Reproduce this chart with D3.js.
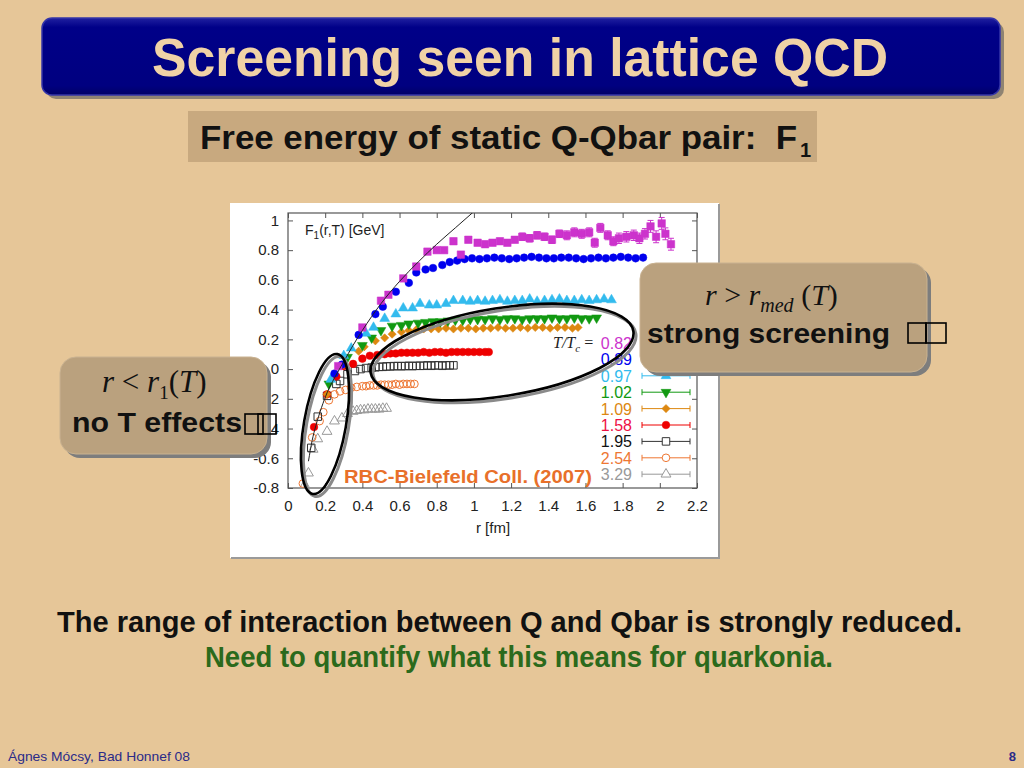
<!DOCTYPE html>
<html>
<head>
<meta charset="utf-8">
<script src="https://cdn.jsdelivr.net/npm/d3@7"></script>
<style>
  body { margin: 0; background: #e6c698; }
  svg { display: block; }
</style>
</head>
<body>
<svg id="slide" width="1024" height="768" font-family="'Liberation Sans', Arial, sans-serif"></svg>
<script>
// ---- data (r in fm, F1 in GeV) ----
const tcLabels = ["0.82", "0.89", "0.97", "1.02", "1.09", "1.58", "1.95", "2.54", "3.29"];

const r082 = [0.27, 0.40, 0.50, 0.54, 0.62, 0.69, 0.75, 0.80, 0.84, 0.89, 0.93, 0.97, 1.02, 1.06, 1.10, 1.14, 1.18, 1.22, 1.26, 1.30, 1.34, 1.38, 1.42, 1.46, 1.50, 1.54, 1.58, 1.62, 1.65, 1.68, 1.72, 1.75, 1.78, 1.82, 1.86, 1.89, 1.92, 1.95, 1.98, 2.01, 2.03, 2.06];
const f082 = [0.02, 0.28, 0.46, 0.50, 0.61, 0.69, 0.79, 0.80, 0.80, 0.86, 0.77, 0.87, 0.85, 0.84, 0.85, 0.86, 0.85, 0.87, 0.89, 0.88, 0.90, 0.89, 0.87, 0.91, 0.90, 0.92, 0.91, 0.92, 0.85, 0.95, 0.90, 0.86, 0.88, 0.89, 0.90, 0.88, 0.91, 0.96, 0.89, 0.98, 0.91, 0.84];
const e082 = [0.01, 0.01, 0.01, 0.01, 0.01, 0.01, 0.015, 0.015, 0.015, 0.02, 0.02, 0.02, 0.02, 0.02, 0.02, 0.02, 0.02, 0.02, 0.025, 0.025, 0.025, 0.025, 0.025, 0.025, 0.03, 0.03, 0.03, 0.03, 0.03, 0.03, 0.03, 0.03, 0.035, 0.035, 0.035, 0.035, 0.035, 0.04, 0.04, 0.04, 0.04, 0.04];

const r089 = [0.25, 0.29, 0.38, 0.47, 0.51, 0.58, 0.65, 0.69, 0.74, 0.78, 0.83, 0.87, 0.91, 0.95, 0.99, 1.03, 1.07, 1.11, 1.15, 1.19, 1.23, 1.27, 1.31, 1.35, 1.39, 1.43, 1.47, 1.51, 1.55, 1.59, 1.63, 1.67, 1.71, 1.75, 1.79, 1.83, 1.87, 1.91];
const f089 = [-0.03, 0.03, 0.23, 0.37, 0.42, 0.52, 0.58, 0.65, 0.67, 0.68, 0.70, 0.72, 0.73, 0.74, 0.745, 0.74, 0.745, 0.75, 0.745, 0.74, 0.745, 0.75, 0.755, 0.75, 0.745, 0.745, 0.75, 0.75, 0.745, 0.74, 0.745, 0.75, 0.745, 0.75, 0.755, 0.75, 0.745, 0.75];

const r097 = [0.23, 0.30, 0.34, 0.42, 0.46, 0.52, 0.58, 0.62, 0.67, 0.71, 0.76, 0.80, 0.85, 0.89, 0.94, 0.98, 1.02, 1.06, 1.10, 1.14, 1.18, 1.22, 1.26, 1.30, 1.34, 1.38, 1.42, 1.46, 1.50, 1.54, 1.58, 1.62, 1.66, 1.70, 1.74];
const f097 = [-0.07, 0.09, 0.14, 0.24, 0.28, 0.34, 0.37, 0.41, 0.41, 0.44, 0.43, 0.43, 0.44, 0.46, 0.46, 0.455, 0.46, 0.455, 0.46, 0.465, 0.455, 0.46, 0.46, 0.47, 0.455, 0.46, 0.465, 0.47, 0.46, 0.46, 0.465, 0.46, 0.465, 0.47, 0.465];

const r102 = [0.22, 0.32, 0.40, 0.45, 0.50, 0.56, 0.61, 0.65, 0.70, 0.74, 0.78, 0.82, 0.86, 0.90, 0.94, 0.98, 1.02, 1.06, 1.10, 1.14, 1.18, 1.22, 1.26, 1.30, 1.34, 1.38, 1.42, 1.46, 1.50, 1.54, 1.58, 1.62, 1.66];
const f102 = [-0.10, 0.08, 0.16, 0.21, 0.26, 0.29, 0.295, 0.305, 0.31, 0.315, 0.32, 0.32, 0.325, 0.33, 0.33, 0.335, 0.335, 0.335, 0.34, 0.335, 0.34, 0.34, 0.335, 0.34, 0.34, 0.34, 0.345, 0.34, 0.34, 0.345, 0.34, 0.34, 0.345];

const r109 = [0.21, 0.30, 0.38, 0.41, 0.47, 0.52, 0.56, 0.61, 0.65, 0.69, 0.73, 0.77, 0.81, 0.85, 0.89, 0.93, 0.97, 1.01, 1.05, 1.09, 1.13, 1.17, 1.21, 1.25, 1.29, 1.33, 1.37, 1.41, 1.45, 1.49, 1.53, 1.56];
const f109 = [-0.17, 0.03, 0.12, 0.15, 0.19, 0.21, 0.235, 0.25, 0.26, 0.265, 0.27, 0.27, 0.27, 0.275, 0.27, 0.275, 0.275, 0.27, 0.275, 0.275, 0.28, 0.275, 0.275, 0.28, 0.275, 0.28, 0.28, 0.275, 0.28, 0.28, 0.275, 0.28];

const r158 = [0.14, 0.21, 0.26, 0.30, 0.35, 0.40, 0.44, 0.48, 0.52, 0.55, 0.58, 0.61, 0.64, 0.67, 0.70, 0.73, 0.76, 0.79, 0.82, 0.85, 0.88, 0.91, 0.94, 0.97, 1.00, 1.03, 1.06, 1.08];
const f158 = [-0.39, -0.17, -0.05, 0.02, 0.035, 0.07, 0.09, 0.095, 0.10, 0.105, 0.105, 0.11, 0.11, 0.11, 0.11, 0.115, 0.11, 0.115, 0.115, 0.11, 0.115, 0.115, 0.115, 0.115, 0.115, 0.115, 0.115, 0.115];

const r195 = [0.125, 0.16, 0.21, 0.26, 0.28, 0.32, 0.36, 0.39, 0.42, 0.45, 0.47, 0.49, 0.51, 0.53, 0.55, 0.57, 0.59, 0.61, 0.63, 0.65, 0.67, 0.69, 0.71, 0.73, 0.75, 0.77, 0.79, 0.81, 0.83, 0.85, 0.87, 0.89];
const f195 = [-0.53, -0.32, -0.18, -0.10, -0.08, -0.035, -0.013, 0.0, 0.007, 0.01, 0.012, 0.015, 0.015, 0.018, 0.018, 0.02, 0.02, 0.02, 0.02, 0.022, 0.02, 0.022, 0.022, 0.022, 0.025, 0.022, 0.025, 0.025, 0.022, 0.025, 0.025, 0.025];

const r254 = [0.08, 0.13, 0.17, 0.19, 0.22, 0.25, 0.28, 0.31, 0.34, 0.37, 0.40, 0.42, 0.44, 0.46, 0.48, 0.50, 0.52, 0.54, 0.56, 0.58, 0.60, 0.62, 0.64, 0.66, 0.68];
const f254 = [-0.77, -0.46, -0.35, -0.29, -0.21, -0.17, -0.15, -0.14, -0.125, -0.12, -0.115, -0.115, -0.11, -0.11, -0.11, -0.105, -0.105, -0.105, -0.105, -0.10, -0.105, -0.10, -0.10, -0.10, -0.10];

const r329 = [0.09, 0.11, 0.135, 0.16, 0.21, 0.25, 0.29, 0.32, 0.35, 0.37, 0.39, 0.41, 0.43, 0.45, 0.47, 0.49, 0.51, 0.53];
const f329 = [-0.78, -0.70, -0.54, -0.47, -0.42, -0.35, -0.33, -0.30, -0.285, -0.28, -0.275, -0.275, -0.27, -0.27, -0.27, -0.27, -0.265, -0.265];

// zero temperature potential (thin black line)
const rT0 = [0.11, 0.13, 0.15, 0.18, 0.21, 0.25, 0.30, 0.35, 0.40, 0.50, 0.60, 0.70, 0.80, 0.90, 1.00];
const fT0 = [-0.62, -0.48, -0.38, -0.26, -0.16, -0.06, 0.05, 0.16, 0.26, 0.44, 0.59, 0.72, 0.84, 0.95, 1.06];

const xTickVals = [0, 0.2, 0.4, 0.6, 0.8, 1, 1.2, 1.4, 1.6, 1.8, 2, 2.2];
const yTickVals = [-0.8, -0.6, -0.4, -0.2, 0, 0.2, 0.4, 0.6, 0.8, 1];

// ---- styles per series ----
const series = [
  { r: r082, f: f082, e: e082, color: "#cc33cc", shape: "square", open: false },
  { r: r089, f: f089, color: "#0000ee", shape: "circle", open: false },
  { r: r097, f: f097, color: "#33bbee", shape: "triUp", open: false },
  { r: r102, f: f102, color: "#119911", shape: "triDown", open: false },
  { r: r109, f: f109, color: "#dd8811", shape: "diamond", open: false },
  { r: r158, f: f158, color: "#ee0000", shape: "circle", open: false },
  { r: r195, f: f195, color: "#333333", shape: "square", open: true },
  { r: r254, f: f254, color: "#ee7733", shape: "circle", open: true },
  { r: r329, f: f329, color: "#999999", shape: "triUp", open: true }
];
const labelColors = ["#cc33cc", "#0000ee", "#33bbee", "#119911", "#dd8811", "#ee1144", "#111111", "#ee7733", "#999999"];

const shapes = {
  square:  { type: d3.symbolSquare,   size: 56, rot: 0 },
  circle:  { type: d3.symbolCircle,   size: 46, rot: 0 },
  triUp:   { type: d3.symbolTriangle, size: 42, rot: 0 },
  triDown: { type: d3.symbolTriangle, size: 42, rot: 180 },
  diamond: { type: d3.symbolSquare,   size: 34, rot: 45 }
};
const SERIF = "'Liberation Serif', 'Times New Roman', serif";

const svg = d3.select("#slide");

// ---- slide background + title ----
svg.append("rect").attr("width", 1024).attr("height", 768).attr("fill", "#e6c698");

const defs = svg.append("defs");
const grad = defs.append("linearGradient").attr("id", "navy")
  .attr("x1", 0).attr("y1", 0).attr("x2", 0).attr("y2", 1);
grad.append("stop").attr("offset", "0%").attr("stop-color", "#2020a0");
grad.append("stop").attr("offset", "12%").attr("stop-color", "#000088");
grad.append("stop").attr("offset", "88%").attr("stop-color", "#000080");
grad.append("stop").attr("offset", "100%").attr("stop-color", "#000066");

svg.append("rect").attr("x", 46).attr("y", 22).attr("width", 958).attr("height", 77)
  .attr("rx", 10).attr("fill", "#8f8372");
svg.append("rect").attr("x", 42).attr("y", 18).attr("width", 958).attr("height", 77)
  .attr("rx", 10).attr("fill", "url(#navy)").attr("stroke", "#3434a8").attr("stroke-width", 1.5);
svg.append("text").attr("x", 152).attr("y", 76)
  .attr("font-size", 54).attr("font-weight", "bold").attr("fill", "#f0d2a6")
  .attr("textLength", 736).attr("lengthAdjust", "spacingAndGlyphs")
  .text("Screening seen in lattice QCD");

// subtitle box
svg.append("rect").attr("x", 188).attr("y", 111).attr("width", 629).attr("height", 51).attr("fill", "#c8a97f");
svg.append("text").attr("x", 200).attr("y", 149).style("white-space", "pre")
  .attr("font-size", 34).attr("font-weight", "bold").attr("fill", "#111")
  .attr("textLength", 597).attr("lengthAdjust", "spacingAndGlyphs")
  .text("Free energy of static Q-Qbar pair:  F");
svg.append("text").attr("x", 800).attr("y", 157)
  .attr("font-size", 20).attr("font-weight", "bold").attr("fill", "#111").text("1");

// ---- chart image ----
svg.append("rect").attr("x", 230).attr("y", 203).attr("width", 489).attr("height", 355).attr("fill", "#fff");
svg.append("path").attr("d", "M719,204 V558 H231").attr("fill", "none").attr("stroke", "#9a9a9a").attr("stroke-width", 2);

const x = d3.scaleLinear().domain([0, 2.2]).range([288, 697]);
const y = d3.scaleLinear().domain([-0.8, 1.05]).range([488, 213]);

const plot = svg.append("g");
defs.append("clipPath").attr("id", "plotclip")
  .append("rect").attr("x", 288).attr("y", 213).attr("width", 409).attr("height", 275);

const styleAxis = g => {
  g.attr("font-family", null);
  g.select(".domain").remove();
  g.selectAll(".tick line").attr("stroke", "#555");
  g.selectAll(".tick text").attr("fill", "#222").attr("font-size", 15);
};
plot.append("g").attr("transform", "translate(0,488)")
  .call(d3.axisBottom(x).tickValues(xTickVals).tickSize(-5).tickPadding(12).tickFormat(d => String(d)))
  .call(styleAxis);
plot.append("g").attr("transform", "translate(0,213)")
  .call(d3.axisTop(x).tickValues(xTickVals).tickSize(-5).tickFormat(""))
  .call(styleAxis);
plot.append("g").attr("transform", "translate(288,0)")
  .call(d3.axisLeft(y).tickValues(yTickVals).tickSize(-5).tickPadding(9).tickFormat(d => String(d)))
  .call(styleAxis);
plot.append("g").attr("transform", "translate(697,0)")
  .call(d3.axisRight(y).tickValues(yTickVals).tickSize(-5).tickFormat(""))
  .call(styleAxis);
plot.append("rect").attr("x", 288).attr("y", 213).attr("width", 409).attr("height", 275)
  .attr("fill", "none").attr("stroke", "#555").attr("stroke-width", 1.2);

// axis titles
const fl = plot.append("text").attr("x", 305).attr("y", 235).attr("font-size", 14).attr("fill", "#222");
fl.append("tspan").text("F");
fl.append("tspan").attr("font-size", 10).attr("dy", 4).text("1");
fl.append("tspan").attr("dy", -4).text("(r,T) [GeV]");
plot.append("text").attr("x", 493).attr("y", 533).attr("text-anchor", "middle")
  .attr("font-size", 15).attr("fill", "#222").text("r [fm]");

function marker(sel, s) {
  const sh = shapes[s.shape];
  sel.attr("d", d3.symbol().type(sh.type).size(sh.size)())
    .attr("fill", s.open ? "none" : s.color)
    .attr("stroke", s.color)
    .attr("stroke-width", s.open ? 1 : 0.5);
  return sh.rot;
}

// data points, high T first so the low-T curves sit on top
const marks = plot.append("g").attr("clip-path", "url(#plotclip)");
series.slice().reverse().forEach(s => {
  const g = marks.append("g");
  const pts = d3.zip(s.r, s.f, s.e || s.r.map(() => 0));
  if (s.e) {
    g.selectAll("path.err").data(pts).join("path").attr("class", "err")
      .attr("d", d => {
        const px = x(d[0]), y0 = y(d[1] - d[2]), y1 = y(d[1] + d[2]);
        return `M${px},${y0}V${y1}M${px - 3},${y0}h6M${px - 3},${y1}h6`;
      })
      .attr("stroke", s.color).attr("stroke-width", 1).attr("fill", "none");
  }
  g.selectAll("path.pt").data(pts).join("path").attr("class", "pt")
    .each(function (d) {
      const rot = marker(d3.select(this), s);
      d3.select(this).attr("transform", `translate(${x(d[0])},${y(d[1])}) rotate(${rot})`);
    });
});

// T = 0 potential
marks.append("path").datum(d3.zip(rT0, fT0))
  .attr("d", d3.line().x(d => x(d[0])).y(d => y(d[1])).curve(d3.curveMonotoneX))
  .attr("fill", "none").attr("stroke", "#222").attr("stroke-width", 1);

// legend
const lg = plot.append("g");
const tt = lg.append("text").attr("x", 553).attr("y", 348)
  .attr("font-family", SERIF).attr("font-size", 16).attr("fill", "#222");
tt.append("tspan").attr("font-style", "italic").text("T/T");
tt.append("tspan").attr("font-style", "italic").attr("font-size", 11).attr("dy", 4).text("c");
tt.append("tspan").attr("dy", -4).text(" =");
series.forEach((s, i) => {
  const yy = 343 + i * 16.4;
  lg.append("text").attr("x", 632).attr("y", yy + 6).attr("text-anchor", "end")
    .attr("font-size", 16).attr("fill", labelColors[i]).text(tcLabels[i]);
  lg.append("path").attr("d", `M642,${yy}H690M642,${yy - 3}v6M690,${yy - 3}v6`)
    .attr("stroke", s.color).attr("stroke-width", 1).attr("fill", "none");
  const p = lg.append("path");
  const rot = marker(p, s);
  p.attr("transform", `translate(666,${yy}) rotate(${rot})`);
  if (s.open) p.attr("fill", "#fff");
});

plot.append("text").attr("x", 344).attr("y", 483)
  .attr("font-size", 18).attr("font-weight", "bold").attr("fill", "#e8702a")
  .attr("textLength", 248).attr("lengthAdjust", "spacingAndGlyphs")
  .text("RBC-Bielefeld Coll. (2007)");

// ---- ellipses ----
function ellipse(cx, cy, rx, ry, ang) {
  svg.append("ellipse").attr("cx", cx + 2.5).attr("cy", cy + 2.5).attr("rx", rx).attr("ry", ry)
    .attr("transform", `rotate(${ang},${cx + 2.5},${cy + 2.5})`)
    .attr("fill", "none").attr("stroke", "#8a8a8a").attr("stroke-width", 3);
  svg.append("ellipse").attr("cx", cx).attr("cy", cy).attr("rx", rx).attr("ry", ry)
    .attr("transform", `rotate(${ang},${cx},${cy})`)
    .attr("fill", "none").attr("stroke", "#000").attr("stroke-width", 2.6);
}
ellipse(325, 424, 21, 71, 10);
ellipse(502, 352, 133, 44, -9);

// ---- callouts ----
function callout(bx, by, bw, bh) {
  svg.append("rect").attr("x", bx + 4).attr("y", by + 4).attr("width", bw).attr("height", bh)
    .attr("rx", 16).attr("fill", "#7d7d7d");
  svg.append("rect").attr("x", bx).attr("y", by).attr("width", bw).attr("height", bh)
    .attr("rx", 16).attr("fill", "#baa17e").attr("stroke", "#c9b291").attr("stroke-width", 1);
}
function tofu(x0, y0, w, h) {
  svg.append("rect").attr("x", x0).attr("y", y0).attr("width", w).attr("height", h)
    .attr("fill", "none").attr("stroke", "#000").attr("stroke-width", 1.6);
}

callout(640, 263, 287, 109);
const m1 = svg.append("text").attr("x", 705).attr("y", 305)
  .attr("font-family", SERIF).attr("font-size", 30).attr("fill", "#111");
m1.append("tspan").attr("font-style", "italic").text("r");
m1.append("tspan").text(" > ");
m1.append("tspan").attr("font-style", "italic").text("r");
m1.append("tspan").attr("font-style", "italic").attr("font-size", 20).attr("dy", 7).text("med");
m1.append("tspan").attr("dy", -7).text(" (");
m1.append("tspan").attr("font-style", "italic").text("T");
m1.append("tspan").text(")");
svg.append("text").attr("x", 647).attr("y", 343)
  .attr("font-size", 28).attr("font-weight", "bold").attr("fill", "#111")
  .attr("textLength", 243).attr("lengthAdjust", "spacingAndGlyphs")
  .text("strong screening");
tofu(908, 323, 18, 20);
tofu(926, 323, 20, 20);

callout(60, 357, 207, 97);
const m2 = svg.append("text").attr("x", 102).attr("y", 392)
  .attr("font-family", SERIF).attr("font-size", 31).attr("fill", "#111");
m2.append("tspan").attr("font-style", "italic").text("r");
m2.append("tspan").text(" < ");
m2.append("tspan").attr("font-style", "italic").text("r");
m2.append("tspan").attr("font-size", 19).attr("dy", 7).text("1");
m2.append("tspan").attr("dy", -7).text("(");
m2.append("tspan").attr("font-style", "italic").text("T");
m2.append("tspan").text(")");
svg.append("text").attr("x", 72).attr("y", 432)
  .attr("font-size", 28).attr("font-weight", "bold").attr("fill", "#111")
  .attr("textLength", 170).attr("lengthAdjust", "spacingAndGlyphs")
  .text("no T effects");
tofu(245, 414, 18, 20);
tofu(258, 414, 18, 20);

// ---- bottom text + footer ----
svg.append("text").attr("x", 57).attr("y", 632)
  .attr("font-size", 29).attr("font-weight", "bold").attr("fill", "#111")
  .attr("textLength", 905).attr("lengthAdjust", "spacingAndGlyphs")
  .text("The range of interaction between Q and Qbar is strongly reduced.");
svg.append("text").attr("x", 205).attr("y", 667)
  .attr("font-size", 29).attr("font-weight", "bold").attr("fill", "#2b6a1c")
  .attr("textLength", 628).attr("lengthAdjust", "spacingAndGlyphs")
  .text("Need to quantify what this means for quarkonia.");

svg.append("text").attr("x", 8).attr("y", 761)
  .attr("font-size", 13).attr("fill", "#2b2b88")
  .attr("textLength", 182).attr("lengthAdjust", "spacingAndGlyphs")
  .text("Ágnes Mócsy, Bad Honnef 08");
svg.append("text").attr("x", 1016).attr("y", 761).attr("text-anchor", "end")
  .attr("font-size", 13).attr("font-weight", "bold").attr("fill", "#2b2b88").text("8");
</script>
</body>
</html>
